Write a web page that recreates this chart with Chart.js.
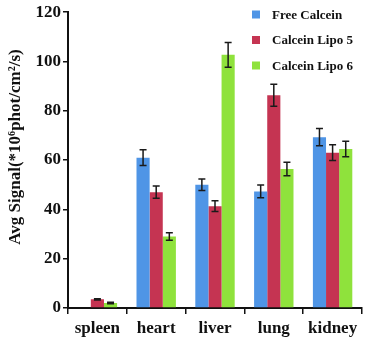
<!DOCTYPE html>
<html><head><meta charset="utf-8">
<script src="https://cdn.jsdelivr.net/npm/chart.js@4"></script>
<style>html,body{margin:0;padding:0;background:#fff}#wrap{width:367px;height:347px}</style>
</head><body><div id="wrap"><canvas id="c" width="367" height="347"></canvas></div>
<script>
const categories = ['spleen','heart','liver','lung','kidney'];
const seriesNames = ['Free Calcein','Calcein Lipo 5','Calcein Lipo 6'];
const freeCalcein = [0.3, 61, 50, 47.3, 69.3];
const calceinLipo5 = [3.5, 47, 41.3, 86.3, 63];
const calceinLipo6 = [2, 29, 102.7, 56.4, 64.5];
const errFree = [0, 3.2, 2.3, 2.6, 3.5];
const errLipo5 = [0.3, 2.5, 2.2, 4.5, 3.2];
const errLipo6 = [0.3, 1.5, 5, 2.7, 3.1];
const yTicks = [0,20,40,60,80,100,120];
const yTitle = 'Avg Signal(*10\u2076phot/cm\u00B2/s)';
const colors = ['#4f95e6','#c53452','#8fe23c'];

const FONT = 'Liberation Serif';

const errorBars = {
  id:'errorBars',
  afterDatasetsDraw(chart){
    const ctx = chart.ctx, y = chart.scales.y;
    const errs = [errFree, errLipo5, errLipo6];
    ctx.save();
    ctx.strokeStyle = '#1a1a1a'; ctx.lineWidth = 1.5;
    chart.data.datasets.forEach((ds, di) => {
      chart.getDatasetMeta(di).data.forEach((bar, i) => {
        const e = errs[di][i]; if (!e) return;
        const v = ds.data[i];
        const x = bar.x, t = y.getPixelForValue(v+e), b = y.getPixelForValue(v-e);
        ctx.beginPath();
        ctx.moveTo(x, t); ctx.lineTo(x, b);
        ctx.moveTo(x-3.5, t); ctx.lineTo(x+3.5, t);
        ctx.moveTo(x-3.5, b); ctx.lineTo(x+3.5, b);
        ctx.stroke();
      });
    });
    ctx.restore();
  }
};

const extras = {
  id:'extras',
  afterDraw(chart){
    const ctx = chart.ctx;
    ctx.save();
    // legend
    ctx.font = 'bold 13px "' + FONT + '"';
    ctx.textBaseline = 'middle';
    chart.data.datasets.forEach((ds, i) => {
      const yy = 14.5 + i*25.5;
      ctx.fillStyle = ds.backgroundColor;
      ctx.fillRect(252, yy-4, 8, 8);
      ctx.fillStyle = '#111';
      ctx.textAlign = 'left';
      ctx.fillText(ds.label, 272, yy+1);
    });
    // y title
    ctx.translate(16, 147);
    ctx.rotate(-Math.PI/2);
    ctx.textAlign = 'center';
    ctx.textBaseline = 'middle';
    ctx.font = 'bold 17px "' + FONT + '"';
    ctx.fillStyle = '#111';
    ctx.fillText(yTitle, 0, 0);
    ctx.restore();
  }
};

new Chart(document.getElementById('c'), {
  type:'bar',
  data:{
    labels: categories,
    datasets:[
      {label: seriesNames[0], data: freeCalcein, backgroundColor: colors[0]},
      {label: seriesNames[1], data: calceinLipo5, backgroundColor: colors[1]},
      {label: seriesNames[2], data: calceinLipo6, backgroundColor: colors[2]}
    ]
  },
  options:{
    responsive:false, animation:false,
    layout:{padding:{top:8, right:5, left:0, bottom:0}},
    datasets:{bar:{categoryPercentage:0.67, barPercentage:1.0, borderWidth:0}},
    plugins:{legend:{display:false}, tooltip:{enabled:false}},
    scales:{
      x:{
        grid:{display:true, offset:true, drawOnChartArea:false, drawTicks:true, tickLength:6, color:'#111', lineWidth:1.5},
        border:{display:true, color:'#111', width:2},
        ticks:{color:'#111', font:{family:FONT, weight:'bold', size:17}, padding:4},
        afterFit(s){ s.height = 39; }
      },
      y:{
        min:0, max:120,
        afterBuildTicks(s){ s.ticks = yTicks.map(v => ({value:v})); },
        grid:{display:true, drawOnChartArea:false, drawTicks:true, tickLength:5, color:'#111', lineWidth:1.5},
        border:{display:true, color:'#111', width:2},
        ticks:{color:'#111', font:{family:FONT, weight:'bold', size:17}, padding:2},
        afterFit(s){ s.width = 68; }
      }
    }
  },
  plugins:[errorBars, extras]
});
</script></body></html>
